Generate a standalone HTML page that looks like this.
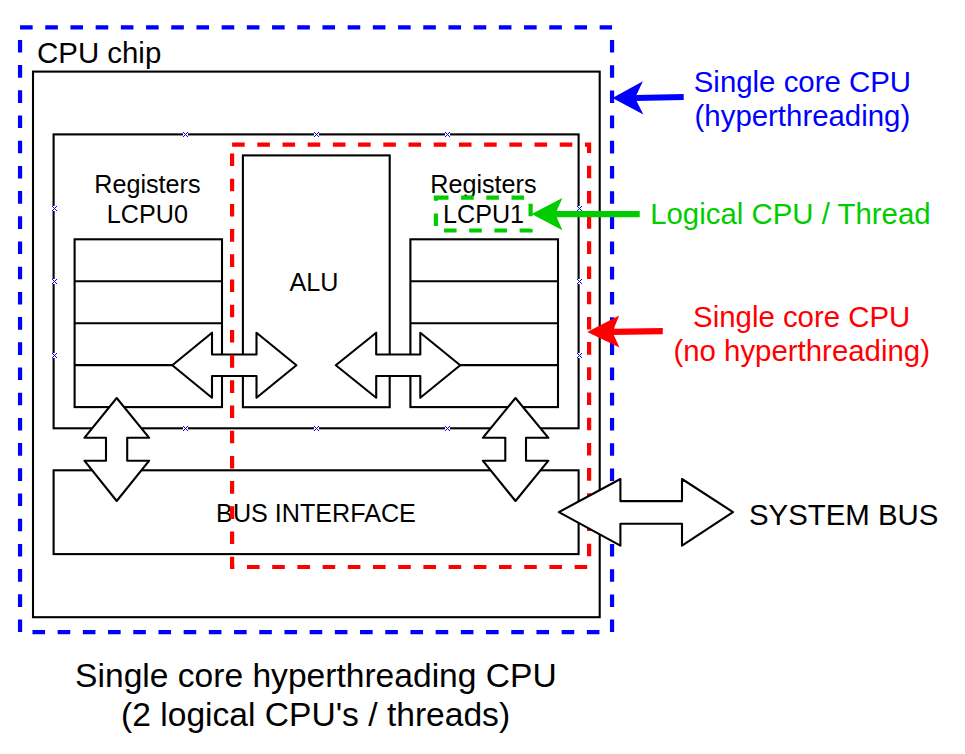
<!DOCTYPE html>
<html>
<head>
<meta charset="utf-8">
<title>Single core hyperthreading CPU</title>
<style>
html,body{margin:0;padding:0;background:#fff;overflow:hidden}
svg{display:block}
text{font-family:"Liberation Sans",sans-serif;}
.k{fill:none;stroke:#000;stroke-width:2.1}
.w{fill:#fff;stroke:#000;stroke-width:2.1;stroke-linejoin:round}
.x{stroke:#0000ff;stroke-width:0.9;fill:none}
.d{fill:none;stroke-width:4.2;stroke-dasharray:12.6 12.6}
</style>
</head>
<body>
<svg width="965" height="754" viewBox="0 0 965 754">
<rect width="965" height="754" fill="#fff"/>
<!-- chip -->
<rect class="k" x="33" y="71.6" width="566.7" height="545.6"/>
<text x="37.1" y="62.5" font-size="29.4">CPU chip</text>
<!-- core -->
<rect class="k" x="53.6" y="134.4" width="525" height="293.9"/>
<!-- bus interface -->
<rect class="k" x="53.6" y="470.3" width="525" height="83.8"/>
<!-- ALU -->
<rect class="k" x="242.9" y="155.4" width="146.8" height="251.8"/>
<!-- registers -->
<g class="k">
<rect x="74.6" y="239.3" width="147.4" height="167.8"/>
<path d="M74.6 281.25H222M74.6 323.2H222M74.6 365.15H222"/>
<rect x="410.4" y="239.3" width="147.6" height="167.8"/>
<path d="M410.4 281.25H558M410.4 323.2H558M410.4 365.15H558"/>
</g>
<!-- connection point markers -->
<g shape-rendering="crispEdges">
<path fill="#fff" d="M183 132h5v5h-5zM314 132h5v5h-5zM445 132h5v5h-5zM183 426h5v5h-5zM314 426h5v5h-5zM445 426h5v5h-5zM52 206h5v5h-5zM52 279h5v5h-5zM52 353h5v5h-5zM577 206h5v5h-5zM577 279h5v5h-5zM577 353h5v5h-5z"/>
<path fill="#0000ff" d="M183 132h1v1h-1zM183 136h1v1h-1zM184 133h1v1h-1zM184 135h1v1h-1zM185 134h1v1h-1zM186 135h1v1h-1zM186 133h1v1h-1zM187 136h1v1h-1zM187 132h1v1h-1zM314 132h1v1h-1zM314 136h1v1h-1zM315 133h1v1h-1zM315 135h1v1h-1zM316 134h1v1h-1zM317 135h1v1h-1zM317 133h1v1h-1zM318 136h1v1h-1zM318 132h1v1h-1zM445 132h1v1h-1zM445 136h1v1h-1zM446 133h1v1h-1zM446 135h1v1h-1zM447 134h1v1h-1zM448 135h1v1h-1zM448 133h1v1h-1zM449 136h1v1h-1zM449 132h1v1h-1zM183 426h1v1h-1zM183 430h1v1h-1zM184 427h1v1h-1zM184 429h1v1h-1zM185 428h1v1h-1zM186 429h1v1h-1zM186 427h1v1h-1zM187 430h1v1h-1zM187 426h1v1h-1zM314 426h1v1h-1zM314 430h1v1h-1zM315 427h1v1h-1zM315 429h1v1h-1zM316 428h1v1h-1zM317 429h1v1h-1zM317 427h1v1h-1zM318 430h1v1h-1zM318 426h1v1h-1zM445 426h1v1h-1zM445 430h1v1h-1zM446 427h1v1h-1zM446 429h1v1h-1zM447 428h1v1h-1zM448 429h1v1h-1zM448 427h1v1h-1zM449 430h1v1h-1zM449 426h1v1h-1zM52 206h1v1h-1zM52 210h1v1h-1zM53 207h1v1h-1zM53 209h1v1h-1zM54 208h1v1h-1zM55 209h1v1h-1zM55 207h1v1h-1zM56 210h1v1h-1zM56 206h1v1h-1zM52 279h1v1h-1zM52 283h1v1h-1zM53 280h1v1h-1zM53 282h1v1h-1zM54 281h1v1h-1zM55 282h1v1h-1zM55 280h1v1h-1zM56 283h1v1h-1zM56 279h1v1h-1zM52 353h1v1h-1zM52 357h1v1h-1zM53 354h1v1h-1zM53 356h1v1h-1zM54 355h1v1h-1zM55 356h1v1h-1zM55 354h1v1h-1zM56 357h1v1h-1zM56 353h1v1h-1zM577 206h1v1h-1zM577 210h1v1h-1zM578 207h1v1h-1zM578 209h1v1h-1zM579 208h1v1h-1zM580 209h1v1h-1zM580 207h1v1h-1zM581 210h1v1h-1zM581 206h1v1h-1zM577 279h1v1h-1zM577 283h1v1h-1zM578 280h1v1h-1zM578 282h1v1h-1zM579 281h1v1h-1zM580 282h1v1h-1zM580 280h1v1h-1zM581 283h1v1h-1zM581 279h1v1h-1zM577 353h1v1h-1zM577 357h1v1h-1zM578 354h1v1h-1zM578 356h1v1h-1zM579 355h1v1h-1zM580 356h1v1h-1zM580 354h1v1h-1zM581 357h1v1h-1zM581 353h1v1h-1z"/>
</g>
<!-- labels -->
<g font-size="25.15" text-anchor="middle">
<text x="147.4" y="187.1" transform="scale(1 1.03)">Registers</text>
<text x="147.4" y="216.3" transform="scale(1 1.03)">LCPU0</text>
<text x="483.4" y="187.1" transform="scale(1 1.03)">Registers</text>
<text x="483.6" y="216.3" transform="scale(1 1.03)">LCPU1</text>
<text x="314" y="282.4" transform="scale(1 1.03)">ALU</text>
<text x="316" y="506.4" transform="scale(1 1.03)">BUS INTERFACE</text>
</g>
<!-- double arrows -->
<path class="w" d="M172.3 365.2L212 332.7V354.5H256.5V332.7L296.4 365.2L256.5 397.8V376H212V397.8Z"/>
<path class="w" d="M335.8 365.2L376.2 332.7V354.5H420.3V332.7L460.2 365.2L420.3 397.8V376H376.2V397.8Z"/>
<path class="w" d="M116.7 398L149.2 437.8H127.2V460.7H149.2L116.7 501L84.4 460.7H106V437.8H84.4Z"/>
<path class="w" d="M515.5 398L548.4 437.8H526V460.7H548.4L515.5 501L482.8 460.7H505.3V437.8H482.8Z"/>
<!-- dashed outlines -->
<rect class="d" x="232.1" y="144.7" width="357" height="422.3" stroke="#ff0000"/>
<g class="d" stroke="#0000ff">
<path d="M20.05 27.4H612.05"/>
<path d="M612.05 27.4V632.1" stroke-dashoffset="12.6"/>
<path d="M612.05 632.1H20.05" stroke-dashoffset="12.6"/>
<path d="M20.05 632.1V27.4"/>
</g>
<rect class="d" x="435.9" y="197.6" width="94.7" height="32.9" stroke="#00cc00"/>
<!-- system bus arrow -->
<path class="w" d="M558.9 512.1L620.4 479V501.1H682V479L733 512.1L682 545.7V523.8H620.4V545.7Z"/>
<text x="749" y="525" font-size="29.4">SYSTEM BUS</text>
<!-- pointer arrows -->
<g fill="#0000ff" stroke="none">
<path d="M612.4 97.9L642.9 81.3L635 97.9L643.4 114.4Z"/>
<path d="M635 94.9L683.7 94V100.1L635 101.1Z"/>
</g>
<g fill="#00cc00" stroke="none">
<path d="M531.6 214.1L562.4 198.1L555.3 214.1L562.4 230.3Z"/>
<path d="M555 211.1H639.7V217.2H555Z"/>
</g>
<g fill="#ff0000" stroke="none">
<path d="M587.2 331.9L619.2 315.4L612.4 331.9L619.5 347.6Z"/>
<path d="M612 328.7L662.8 327.9V334.2L612 335.1Z"/>
</g>
<g font-size="29.4" text-anchor="middle">
<text x="802.4" y="92" fill="#0000ff">Single core CPU</text>
<text x="802.4" y="126" fill="#0000ff">(hyperthreading)</text>
<text x="790.4" y="223.5" fill="#00cc00">Logical CPU / Thread</text>
<text x="801.7" y="327" fill="#ff0000">Single core CPU</text>
<text x="801.7" y="361" fill="#ff0000">(no hyperthreading)</text>
</g>
<g font-size="33.6" text-anchor="middle">
<text x="315.9" y="686.8">Single core hyperthreading CPU</text>
<text x="315.6" y="726">(2 logical CPU's / threads)</text>
</g>
</svg>
</body>
</html>
